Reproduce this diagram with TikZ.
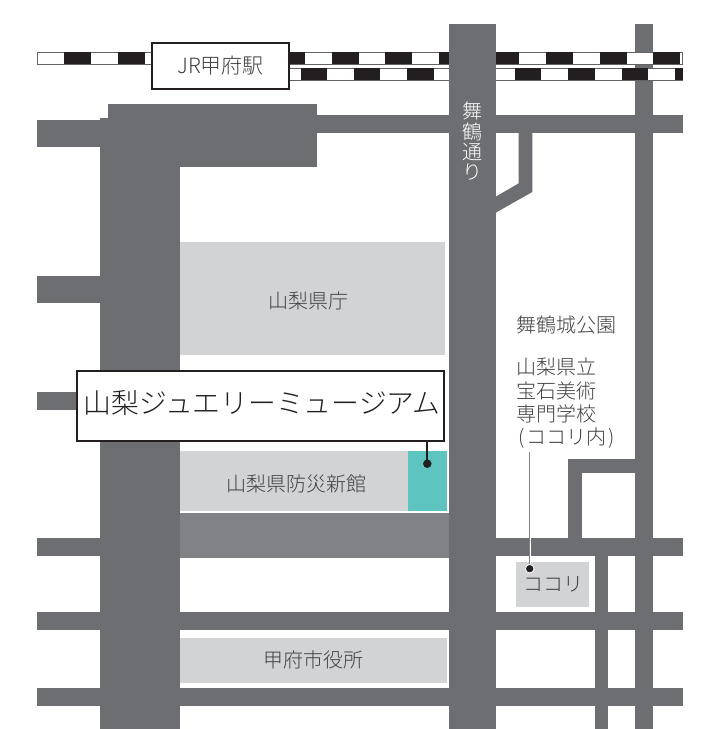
\documentclass[tikz,border=0pt]{standalone}
\usepackage{fontspec}
\setmainfont{Noto Sans CJK JP}
\newfontfamily\cjklight{Noto Sans CJK JP Light}
\definecolor{roadgray}{HTML}{6D6E71}
\definecolor{roadlight}{HTML}{808285}
\definecolor{bldg}{HTML}{D1D3D4}
\definecolor{ink}{HTML}{231F20}
\definecolor{teal}{HTML}{5EC4BF}
\definecolor{txt}{HTML}{414042}
\tikzset{
 x=1pt,y=-1pt,
 road/.style={fill=roadgray,draw=none},
 building/.style={fill=bldg,draw=none},
 railwhite/.style={fill=white,draw=ink!70,line width=0.8pt},
 railblack/.style={fill=ink,draw=none},
 labelbox/.style={draw=ink,fill=white,line width=1.8pt,inner sep=0pt},
 maptext/.style={text=txt,inner sep=0pt,font=\cjklight\fontsize{20}{23.7}\selectfont},
 leaderdot/.style={circle,fill=ink,inner sep=0pt,minimum size=8.5pt},
}
\begin{document}
\begin{tikzpicture}
\useasboundingbox (0,0) rectangle (703,729);
\fill[white] (0,0) rectangle (703,729);
% right-hand vertical road runs under the rails
\fill[road] (635,24) rectangle (652.5,729);
% rails
\fill[railwhite] (37.5,52.5) rectangle (682,64);
\fill[railwhite] (288,68.5) rectangle (682,80);
\foreach \a in {64,117.7,278,331.7,385.3,439,492,546,599.7,653.3}{\fill[railblack] (\a,52.3) rectangle +(26.8,12);}
\foreach \a in {300.7,353.7,407.3,461,514.7,568.3,621.7}{\fill[railblack] (\a,68.3) rectangle +(26.7,12);}
\fill[railblack] (675.3,68.3) rectangle (682.5,80.3);
% right-hand roads
\fill[road] (449,24) rectangle (495.7,729);
\fill[road] (316,115) rectangle (682.5,133);
\fill[road] (495,538) rectangle (682.5,556);
\fill[road] (495,612.3) rectangle (682.5,630);
\fill[road] (495,688.3) rectangle (682.5,706);
\fill[road] (595,556) rectangle (608.3,729);
\fill[road] (568,459.3) rectangle (636,472.7);
\fill[road] (568,459.3) rectangle (581.7,538);
\fill[road] (518.7,133) -- (532.3,133) -- (532.3,192) -- (495.7,212.7) -- (495.7,196.7) -- (518.7,183.3) -- cycle;
% left roads
\fill[road] (37,120.3) rectangle (100,147.3);
\fill[road] (37,275.7) rectangle (100,302.7);
\fill[road] (37,391.7) rectangle (100,410);
\fill[road] (37,537.7) rectangle (100,556);
\fill[roadlight] (180,512.7) rectangle (449,558);
\fill[road] (37,612.3) rectangle (449,630);
\fill[road] (37,688.3) rectangle (449,706);
\fill[road] (99.7,118) rectangle (179.7,729);
\fill[road] (107.7,103.7) rectangle (316.7,167.3);
% buildings
\fill[building] (180,242) rectangle (445,354.7);
\fill[building] (180,451) rectangle (408,510.7);
\fill[teal] (408,451) rectangle (447,510.7);
\fill[building] (180,637.7) rectangle (447,682.7);
\fill[building] (516,562) rectangle (589,606.7);
% labels
\node[labelbox,minimum width=136.4pt,minimum height=46.3pt,text=txt,font=\cjklight\fontsize{21}{24}\selectfont] (station) at (220.5,65.9) {JR甲府駅};
\node[labelbox,minimum width=366.7pt,minimum height=69.7pt] (museum) at (260.7,406.2) {};
\node[inner sep=0pt,font=\cjklight\fontsize{27.8}{30}\selectfont,text=ink] (museumtext) at (262,402.7) {山梨ジュエリーミュージアム};
\node[maptext] (kencho) at (308.5,301) {山梨県庁};
\node[maptext] (bosai) at (296,484) {山梨県防災新館};
\node[maptext] (shiyakusho) at (313.5,659.5) {甲府市役所};
\node[maptext,text=white,align=center,font=\cjklight\fontsize{20}{20.2}\selectfont] (maizuru) at (472.3,141.3) {舞\\鶴\\通\\り};
\node[maptext,anchor=center] (koen) at (566.5,325) {舞鶴城公園};
\node[maptext,anchor=center] (school1) at (556.5,366.7) {山梨県立};
\node[maptext,anchor=center] (school2) at (556.5,390.5) {宝石美術};
\node[maptext,anchor=center] (school3) at (556.5,414.2) {専門学校};
\node[maptext,anchor=center] (school4) at (566.5,437.8) {(\kern2ptココリ内\kern2pt)};
\node[maptext] (kokori) at (553,584) {ココリ};
% leaders
\node[leaderdot] (dotm) at (427.3,463.7) {};
\draw[ink,line width=1.8pt] (museum.south -| dotm) -- (dotm.center);
\coordinate (schoolend) at (529.7,451.7);
\node[leaderdot,draw=white,line width=0.8pt] (dotk) at (529.7,568.7) {};
\draw[white,line width=2.4pt] (529.7,530) -- (dotk.north);
\draw[roadlight,line width=1.2pt] (schoolend) -- (dotk.north);
\end{tikzpicture}
\end{document}
